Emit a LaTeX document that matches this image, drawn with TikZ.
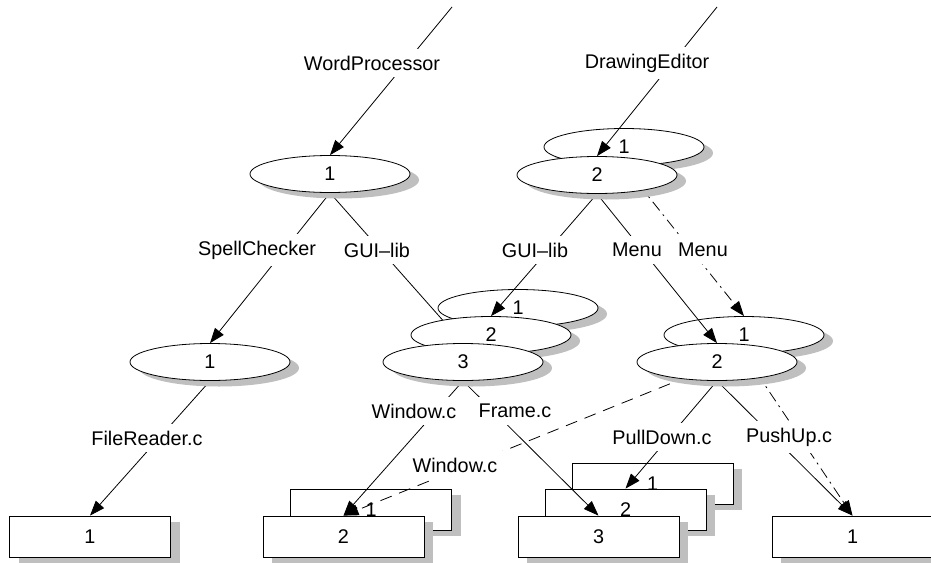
\documentclass[tikz,border=0pt]{standalone}
\usepackage{fontspec}
\setmainfont{Liberation Sans}
\usetikzlibrary{shapes.geometric,shadows,arrows.meta}
\pgfdeclarelayer{bg}
\pgfdeclarelayer{edges}
\pgfdeclarelayer{fg}
\pgfsetlayers{bg,edges,main,fg}

\tikzset{
  shadowed/.style={drop shadow={shadow xshift=4.5pt,shadow yshift=-3pt,fill=black!25,opacity=1}},
  vnode/.style={ellipse,draw,fill=white,shadowed,minimum width=80pt,minimum height=18.5pt,inner sep=0pt},
  fnode/.style={rectangle,draw,fill=white,shadowed,minimum width=80.5pt,minimum height=20.5pt,inner sep=0pt},
  lbl/.style={fill=white,inner sep=3.5pt},
  dep/.style={-{Triangle[length=7.5pt,width=5.5pt]}},
  dashdot/.style={dash pattern=on 5.5pt off 2.5pt on 1pt off 2.5pt},
  longdash/.style={dash pattern=on 6pt off 4pt},
}

\begin{document}
\begin{tikzpicture}[x=0.5pt,y=-0.5pt,line width=0.75pt,font=\fontsize{9.9}{12}\selectfont]
        \useasboundingbox (0,0) rectangle (931,562);
        \begin{pgfonlayer}{bg}
                % files
                \node (f1) [fnode] at (90,536.5) {1};
                \node (w1) [fnode] at (371,509.5) {1};
                \node (w2) [fnode] at (343.5,536.5) {2};
                \node (g1) [fnode] at (652.5,483.5) {1};
                \node (g2) [fnode] at (625.5,509.5) {2};
                \node (g3) [fnode] at (598.5,536.5) {3};
                \node (p1) [fnode] at (852.5,536.5) {1};
                % older versions
                \node (de1) [vnode] at (624,147) {1};
                \node (gl1) [vnode] at (518,308) {1};
                \node (mn1) [vnode] at (744,335) {1};
        \end{pgfonlayer}
        \node (wp1) [vnode] at (330,174) {1};
        \node (de2) [vnode] at (597,175) {2};
        \node (sc1) [vnode] at (210,362) {1};
        \node (gl2) [vnode] at (491,335) {2};
        \node (gl3) [vnode] at (463,362) {3};
        \node (mn2) [vnode] at (717,362) {2};
        \coordinate (wptop) at (452,7);
        \coordinate (detop) at (717,7);
        \begin{pgfonlayer}{edges}
                \draw [dep] (wptop) -- (wp1.north);
                \draw [dep] (detop) -- (de2.north);
                \draw [dep] (wp1.south) -- (sc1.north);
                \draw [dep] (wp1.south) -- (gl3.north);
                \draw [dep] (de2.south) -- (gl2.north);
                \draw [dep] (de2.south) -- (mn2.north);
                \draw [dep, dashdot] (de1.south) -- (mn1.north);
                \draw [dep] (sc1.south) -- (f1.north);
                \draw [dep] (gl3.south) -- (w2.north);
                \draw [dep] (gl3.south) -- (g3.north);
                \draw [dep, longdash] (mn1.south) -- (w2.north);
                \draw [dep] (mn2.south) -- (g2.north);
                \draw [dep] (mn2.south) -- (p1.north);
                \draw [dep, dashdot] (mn1.south) -- (p1.north);
        \end{pgfonlayer}
        \begin{pgfonlayer}{fg}
                \node (lwp) [lbl] at (372,63) {WordProcessor};
                \node (lde) [lbl] at (647,63) {DrawingEditor};
                \node (lsc) [lbl] at (257,250) {SpellChecker};
                \node (lgl1) [lbl] at (377,250) {GUI--lib};
                \node (lgl2) [lbl] at (535,250) {GUI--lib};
                \node (lmn1) [lbl] at (637,250) {Menu};
                \node (lmn2) [lbl] at (703,250) {Menu};
                \node (lfr) [lbl] at (147,438) {FileReader.c};
                \node (lwin1) [lbl] at (414,411) {Window.c};
                \node (lfrm) [lbl] at (515,411) {Frame.c};
                \node (lwin2) [lbl] at (455,465) {Window.c};
                \node (lpd) [lbl] at (662,437) {PullDown.c};
                \node (lpu) [lbl] at (789,437) {PushUp.c};
        \end{pgfonlayer}
\end{tikzpicture}
\end{document}
